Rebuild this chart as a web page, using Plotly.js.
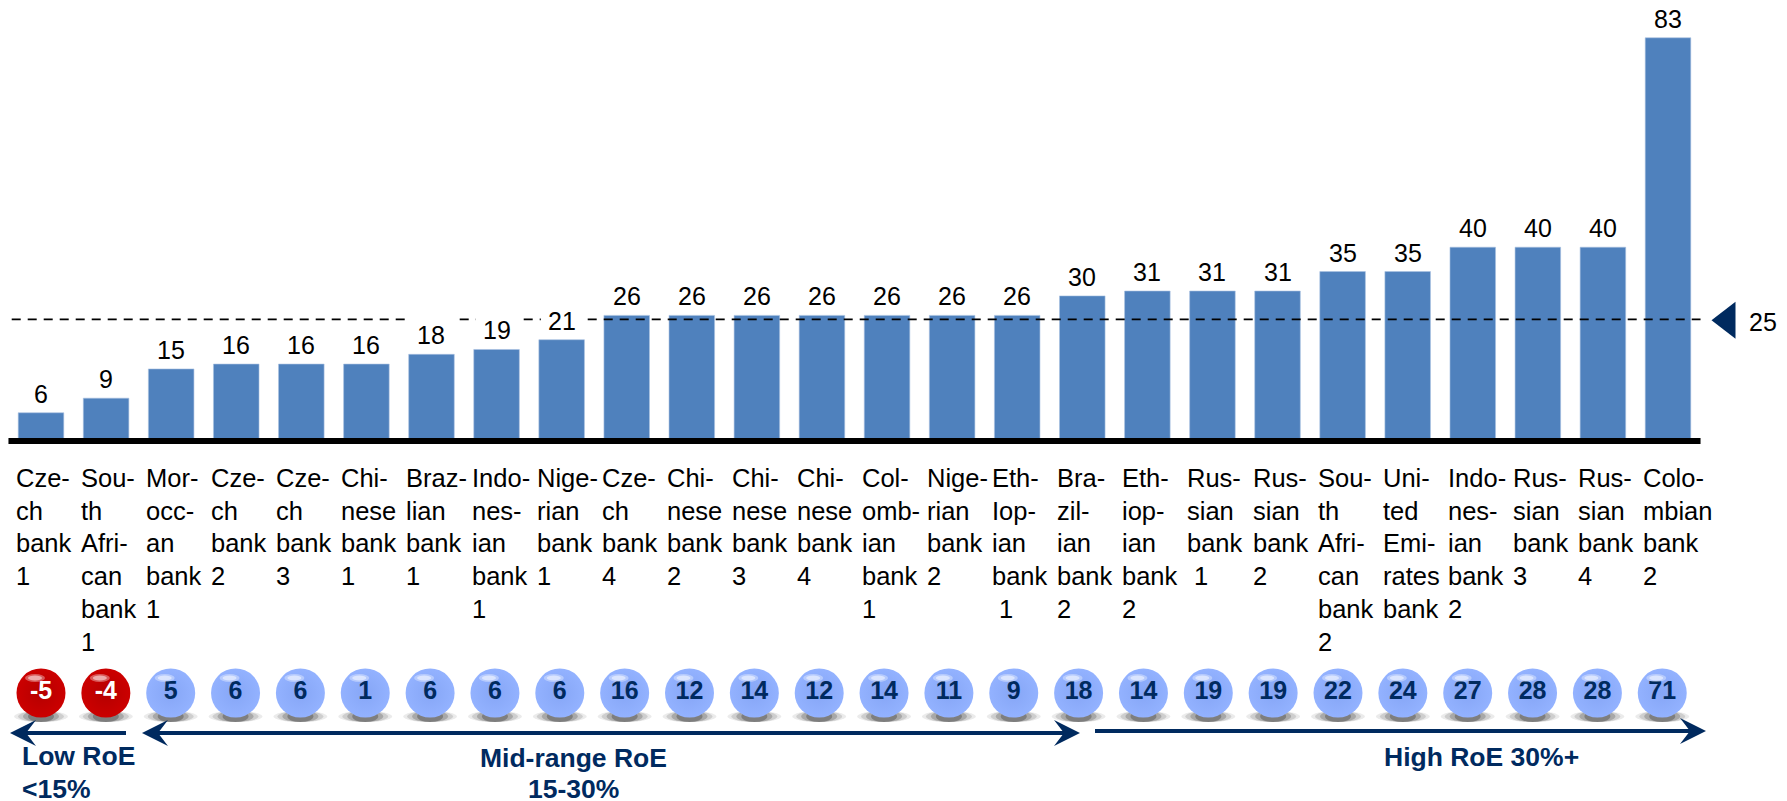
<!DOCTYPE html>
<html><head><meta charset="utf-8">
<script src="https://cdn.plot.ly/plotly-3.0.1.min.js"></script>
<style>html,body{margin:0;padding:0;background:#fff}#c{width:1787px;height:801px}</style>
</head><body><div id="c"></div>
<script>
const bankLabels=[
"Cze-|ch|bank|1","Sou-|th|Afri-|can|bank|1","Mor-|occ-|an|bank|1","Cze-|ch|bank|2","Cze-|ch|bank|3","Chi-|nese|bank|1",
"Braz-|lian|bank|1","Indo-|nes-|ian|bank|1","Nige-|rian|bank|1","Cze-|ch|bank|4","Chi-|nese|bank|2","Chi-|nese|bank|3",
"Chi-|nese|bank|4","Col-|omb-|ian|bank|1","Nige-|rian|bank|2","Eth-|Iop-|ian|bank|\u00a01","Bra-|zil-|ian|bank|2","Eth-|iop-|ian|bank|2",
"Rus-|sian|bank|\u00a01","Rus-|sian|bank|2","Sou-|th|Afri-|can|bank|2","Uni-|ted|Emi-|rates|bank","Indo-|nes-|ian|bank|2",
"Rus-|sian|bank|3","Rus-|sian|bank|4","Colo-|mbian|bank|2"];
const barValues=[6,9,15,16,16,16,18,19,21,26,26,26,26,26,26,26,30,31,31,31,35,35,40,40,40,83];
const ballValues=[-5,-4,5,6,6,1,6,6,6,16,12,14,12,14,11,9,18,14,19,19,22,24,27,28,28,71];
const benchmark=25;
const idx=barValues.map((_,i)=>i);

const W=1787,H=801;
const pxX=i=>41+i*65.08, dataX=p=>(p-41)/65.08;
const pxPerUnit=4.87, zeroPx=442;
const dataY=p=>(zeroPx-p)/pxPerUnit;
const navy='#002A5F';
const font='"Liberation Sans",Arial,sans-serif';
const ballPx=i=>41+i*64.85;
const ballX=i=>dataX(ballPx(i));
const ballYpx=693;

const traces=[
 {type:'bar',x:idx,y:barValues,marker:{color:'#4F81BD',line:{color:'#A9C1E0',width:0.6}},width:0.7,hoverinfo:'skip',showlegend:false},
 {type:'scatter',mode:'markers',x:[dataX(1727.5)],y:[benchmark],marker:{symbol:'triangle-left',size:32,color:navy},hoverinfo:'skip',showlegend:false},
 {type:'scatter',mode:'markers+text',x:idx.map(ballX),y:idx.map(()=>dataY(ballYpx)),
  text:ballValues.map(String),textposition:'middle center',
  textfont:{family:font,size:25,color:ballValues.map(v=>v<0?'#fff':navy),weight:700},
  marker:{size:49,color:ballValues.map(v=>v<0?'#CC0000':'#93B2FF'),
   gradient:{type:'radial',color:ballValues.map(v=>v<0?'#B50000':'#86A6F6')},line:{width:0}},
  hoverinfo:'skip',showlegend:false}
];

const shapes=[];
idx.forEach(i=>{
  const xa=ballX(i), ya=dataY(ballYpx);
  [[27,0.08],[23,0.12],[18,0.18],[13,0.25]].forEach(([rx,op])=>{
    shapes.push({type:'circle',layer:'below',xref:'x',yref:'y',xsizemode:'pixel',ysizemode:'pixel',xanchor:xa,yanchor:ya,
      x0:-rx,x1:rx,y0:-29,y1:-18,fillcolor:'#000',opacity:op,line:{width:0}});
  });
  [[10,4,0.35],[7,2.6,0.5]].forEach(([rx,ry,op])=>{
    shapes.push({type:'circle',layer:'above',xref:'x',yref:'y',xsizemode:'pixel',ysizemode:'pixel',xanchor:xa,yanchor:ya,
      x0:-6-rx,x1:-6+rx,y0:15-ry,y1:15+ry,fillcolor:'#fff',opacity:op,line:{width:0}});
  });
});
shapes.push({type:'line',xref:'x',yref:'y',x0:-0.5,x1:25.5,y0:dataY(441),y1:dataY(441),line:{color:'#000',width:6},layer:'above'});
shapes.push({type:'line',xref:'x',yref:'y',x0:-0.45,x1:25.5,y0:benchmark+0.2,y1:benchmark+0.2,line:{color:'#000',width:1.8,dash:'9px 7px'},layer:'above'});
barValues.forEach((v,i)=>{ if(v>=18&&v<benchmark)
  shapes.push({type:'rect',xref:'x',yref:'y',x0:i-0.32,x1:i+0.36,y0:benchmark-0.4,y1:benchmark+0.8,fillcolor:'#fff',line:{width:0},layer:'above'});});

const fx=p=>(p/W).toFixed(5), fy=p=>(1-p/H).toFixed(5);
function head(tip,y,dir){
  const pts=[[tip,y],[tip-dir*26,y-13],[tip-dir*16,y],[tip-dir*26,y+13]];
  shapes.push({type:'path',xref:'paper',yref:'paper',layer:'above',fillcolor:navy,line:{width:0},
    path:'M'+pts.map(p=>fx(p[0])+' '+fy(p[1])).join(' L')+' Z'});
}
function shaft(x0,x1,y){
  shapes.push({type:'line',xref:'paper',yref:'paper',x0:x0/W,x1:x1/W,y0:1-y/H,y1:1-y/H,line:{color:navy,width:4},layer:'above'});
}
shaft(126,24,733); head(10,733,-1);
shaft(156,1066,733); head(142,733,-1); head(1080,733,1);
shaft(1095,1692,731); head(1706,731,1);

const ann=[];
const txt=(t,xpx,ypx,size,color,extra)=>ann.push(Object.assign({xref:'paper',yref:'paper',x:xpx/W,y:1-ypx/H,text:t,showarrow:false,
  font:{family:font,size,color},xanchor:'center',yanchor:'middle',borderpad:0,borderwidth:0},extra||{}));

barValues.forEach((v,i)=>ann.push({xref:'x',yref:'y',x:i,y:v,text:String(v),showarrow:false,yanchor:'bottom',yshift:4,
  font:{family:font,size:25,color:'#000'},borderpad:0}));
bankLabels.forEach((s,i)=>s.split('|').forEach((ln,k)=>
  txt(ln,pxX(i)-25,478+k*32.7,25.5,'#000',{xanchor:'left',align:'left'})));
txt(String(benchmark),1763,322,25,'#000');
txt('<b>Low RoE</b>',22,756,26.5,navy,{xanchor:'left'});
txt('<b>&lt;15%</b>',22,789,26.5,navy,{xanchor:'left'});
txt('<b>Mid-range RoE</b>',573,758,26.5,navy);
txt('<b>15-30%</b>',573,789,26.5,navy);
txt('<b>High RoE 30%+</b>',1481,757,26.5,navy);

Plotly.newPlot('c',traces,{
  width:W,height:H,margin:{l:0,r:0,t:0,b:0},paper_bgcolor:'#fff',plot_bgcolor:'#fff',showlegend:false,
  xaxis:{range:[dataX(0),dataX(W)],visible:false,fixedrange:true},
  yaxis:{range:[dataY(H),dataY(0)],visible:false,fixedrange:true},
  shapes,annotations:ann,bargap:0.3
},{displayModeBar:false,staticPlot:true});
</script></body></html>
